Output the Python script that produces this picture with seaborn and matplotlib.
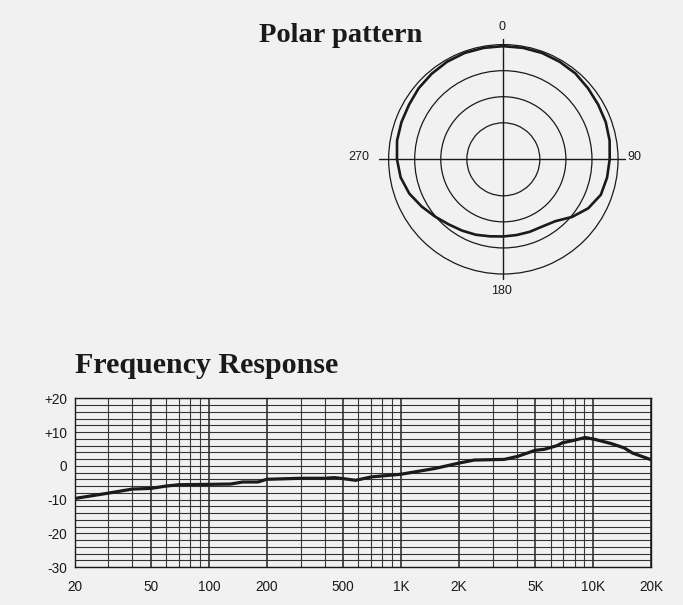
import numpy as np
import seaborn as sns
from matplotlib import pyplot as plt

#####################
# dados lidos do grafico
# diagrama polar: angulo (graus, sentido horario a partir do topo) e nivel em dB
polar_graus = [0, 10, 20, 30, 40, 50, 60, 70, 80, 90, 100, 110,
               120, 130, 140, 150, 160, 170, 180, 190, 200, 210, 220, 230,
               240, 250, 260, 270, 280, 290, 300, 310, 320, 330, 340, 350]
polar_db = [-0.3, -0.3, -0.3, -0.4, -0.5, -0.8, -1.0, -1.1, -1.3, -1.6, -1.8, -2.1,
            -3.2, -4.8, -6.5, -7.1, -7.2, -7.25, -7.2, -7.0, -6.6, -6.2, -5.7, -4.9,
            -3.9, -2.8, -2.0, -1.6, -1.3, -1.2, -1.1, -0.8, -0.6, -0.4, -0.3, -0.3]
aneis_db = [-15, -10, -5]
polar_rotulos = ['0', '90', '180', '270']

# resposta em frequencia
freq_hz = [20, 30, 40, 50, 60, 70, 100, 130, 150, 180, 200, 300, 400, 450, 485,
           580, 700, 1000, 1500, 2000, 2400, 3450, 4050, 5000, 5570, 6500, 6900,
           8000, 9100, 10250, 12400, 14500, 16000, 20000]
resp_db = [-9.7, -8.1, -6.9, -6.7, -6.0, -5.6, -5.5, -5.4, -4.8, -4.8, -4.0, -3.7, -3.7, -3.5, -3.7,
           -4.3, -3.3, -2.5, -0.8, 0.8, 1.7, 1.9, 2.8, 4.6, 4.9, 6.0, 6.8,
           7.6, 8.4, 7.8, 6.6, 5.3, 3.8, 1.8]
x_ticks = [20, 50, 100, 200, 500, 1000, 2000, 5000, 10000, 20000]
x_rotulos = ['20', '50', '100', '200', '500', '1K', '2K', '5K', '10K', '20K']
y_ticks = [-30, -20, -10, 0, 10, 20]
y_rotulos = ['-30', '-20', '-10', '0', '+10', '+20']

#####################
sns.set_style('white')
plt.rcParams['font.family'] = ['Liberation Sans', 'DejaVu Sans']
fundo = '#f1f1f1'
tinta = '#1a1a1a'

fig = plt.figure(figsize=(6.83, 6.05), dpi=100, facecolor=fundo)

def px(x, y):
    # converte pixel da imagem (683x605) para coordenada da figura
    return x / 683, 1 - y / 605

#####################
# grafico polar
axp = fig.add_axes([0.5690, 0.5471, 0.3359, 0.3792], projection='polar')
axp.set_facecolor(fundo)
axp.set_theta_zero_location('N')
axp.set_theta_direction(-1)
ang = np.deg2rad(np.append(polar_graus, 360))   # fecha a curva
nivel = np.append(polar_db, polar_db[0])
sns.lineplot(x=ang, y=nivel, ax=axp, sort=False, estimator=None,
             color=tinta, lw=1.9, clip_on=False)
axp.set_ylim(-22, 0)
axp.set_xticks([])
axp.set_yticks(aneis_db)
axp.set_yticklabels([])
axp.yaxis.grid(True, color=tinta, lw=0.9)
axp.spines['polar'].set_color(tinta)
axp.spines['polar'].set_linewidth(0.9)
axp.set_xlabel('')
axp.set_ylabel('')
# cruz central, passa um pouco do circulo externo
axp.plot([0, 0], [-22, 1.0], color=tinta, lw=1.0, clip_on=False)
axp.plot([np.pi, np.pi], [-22, 0.9], color=tinta, lw=1.0, clip_on=False)
axp.plot([np.pi / 2, np.pi / 2], [-22, 1.4], color=tinta, lw=1.0, clip_on=False)
axp.plot([3 * np.pi / 2, 3 * np.pi / 2], [-22, 1.8], color=tinta, lw=1.0, clip_on=False)

posicoes = [(502, 27), (634, 157), (502, 291), (359, 157)]
for rot, (x, y) in zip(polar_rotulos, posicoes):
    fig.text(*px(x, y), rot, ha='center', va='center', fontsize=9, color=tinta)

fig.text(*px(259, 42), 'Polar pattern', ha='left', va='baseline', fontsize=20.5,
         fontweight='bold', family='Liberation Serif', color=tinta)

#####################
# resposta em frequencia
axf = fig.add_axes([0.1091, 0.0628, 0.8441, 0.2788])
axf.set_facecolor(fundo)
sns.lineplot(x=freq_hz, y=resp_db, ax=axf, color=tinta, lw=2.3)
axf.set_xscale('log')
axf.set_xlim(20, 20000)
axf.set_ylim(-30, 20)
axf.set_xticks(x_ticks)
axf.set_xticklabels(x_rotulos)
menores = [m * 10 ** d for d in range(1, 5) for m in range(1, 10)]
axf.set_xticks([v for v in menores if 20 <= v <= 20000 and v not in x_ticks], minor=True)
axf.set_yticks(y_ticks)
axf.set_yticklabels(y_rotulos)
axf.set_yticks(np.arange(-30, 21, 2), minor=True)
axf.grid(which='major', axis='x', color='#202020', lw=1.1)
axf.grid(which='minor', axis='x', color='#3a3a3a', lw=0.8)
axf.grid(which='both', axis='y', color='#333333', lw=0.8)
axf.tick_params(which='both', length=0)
axf.tick_params(axis='x', pad=9, labelsize=9.8, colors=tinta)
axf.tick_params(axis='y', pad=5.5, labelsize=9.8, colors=tinta)
for s in axf.spines.values():
    s.set_color(tinta)
    s.set_linewidth(1.0)
axf.set_xlabel('')
axf.set_ylabel('')

fig.text(*px(75, 373), 'Frequency Response', ha='left', va='baseline', fontsize=21.6,
         fontweight='bold', family='Liberation Serif', color=tinta)

fig.savefig('out.png', dpi=100, facecolor=fundo)
